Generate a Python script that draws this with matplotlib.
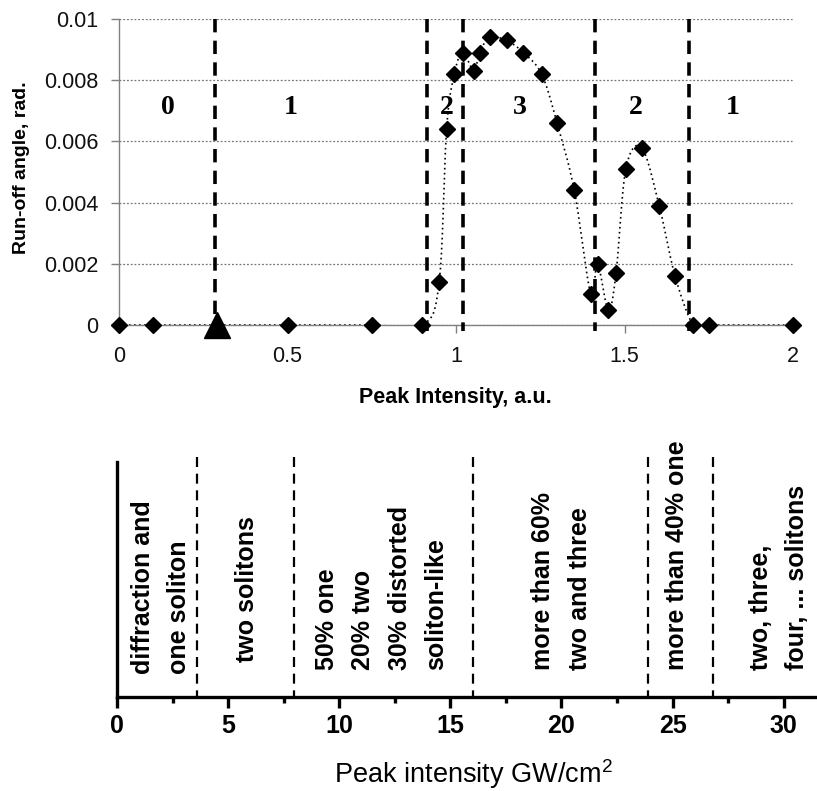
import numpy as np
import matplotlib
matplotlib.use("Agg")
import matplotlib.pyplot as plt

# top panel: run-off angle vs peak intensity (a.u.)
run_x = [0, 0.1, 0.5, 0.75, 0.9, 0.95, 0.972, 0.995, 1.02, 1.053, 1.07, 1.10, 1.15,
         1.20, 1.254, 1.30, 1.351, 1.40, 1.42, 1.452, 1.475, 1.504, 1.551, 1.603,
         1.65, 1.704, 1.75, 2.0]
run_y = [0, 0, 0, 0, 0, 0.0014, 0.0064, 0.0082, 0.0089, 0.0083, 0.0089, 0.0094, 0.0093,
         0.0089, 0.0082, 0.0066, 0.0044, 0.0010, 0.0020, 0.0005, 0.0017, 0.0051, 0.0058,
         0.0039, 0.0016, 0, 0, 0]
tri_x = [0.29]
tri_y = [0]
top_bounds = [0.285, 0.915, 1.022, 1.412, 1.692]
region_x = [0.145, 0.51, 0.972, 1.19, 1.534, 1.82]
region_txt = ["0", "1", "2", "3", "2", "1"]
top_xticks = [0, 0.5, 1, 1.5, 2]
top_xlabels = ["0", "0.5", "1", "1.5", "2"]
top_yticks = [0, 0.002, 0.004, 0.006, 0.008, 0.01]
top_ylabels = ["0", "0.002", "0.004", "0.006", "0.008", "0.01"]

# bottom panel: regimes vs peak intensity (GW/cm2)
bot_bounds = [3.6, 7.95, 16.0, 23.9, 26.8]
bot_text = ["diffraction and\none soliton", "two solitons",
            "50% one\n20% two\n30% distorted\nsoliton-like",
            "more than 60%\ntwo and three", "more than 40% one",
            "two, three,\nfour, ... solitons"]
bot_text_x = [1.98, 5.86, 11.9, 20.0, 25.2, 29.8]
bot_text_y = [0.10, 0.149, 0.115, 0.115, 0.115, 0.115]
bot_xticks = [0, 5, 10, 15, 20, 25, 30]
bot_xlabels = ["0", "5", "10", "15", "20", "25", "30"]


def smooth(x, y, n=24):
    # Excel-style smoothed line (Catmull-Rom Bezier through the points)
    pts = np.column_stack([x, y])
    P = np.vstack([pts[0], pts, pts[-1]])
    t = np.linspace(0, 1, n)[:, None]
    segs = []
    for i in range(1, len(P) - 2):
        p0, p1, p2, p3 = P[i - 1], P[i], P[i + 1], P[i + 2]
        c1 = p1 + (p2 - p0) / 6
        c2 = p2 - (p3 - p1) / 6
        segs.append((1 - t) ** 3 * p1 + 3 * (1 - t) ** 2 * t * c1
                    + 3 * (1 - t) * t ** 2 * c2 + t ** 3 * p2)
    s = np.vstack(segs)
    return s[:, 0], s[:, 1]


plt.rcParams["font.family"] = ["Liberation Sans", "DejaVu Sans"]
plt.rcParams["mathtext.fontset"] = "custom"
plt.rcParams["mathtext.rm"] = "Liberation Sans"

W, H = 817, 791
fig = plt.figure(figsize=(W / 100, H / 100), dpi=100)

# ---- top panel
ax = fig.add_axes([119 / W, 1 - 325 / H, 674 / W, 306 / H])
ax.set_xlim(0, 2)
ax.set_ylim(0, 0.01)
ax.yaxis.grid(True, linestyle=(0, (1.5, 1.5)), color="#777777", lw=0.9)
ax.set_axisbelow(True)
for s in ["top", "right"]:
    ax.spines[s].set_visible(False)
for s in ["left", "bottom"]:
    ax.spines[s].set_color("#808080")
    ax.spines[s].set_linewidth(1.0)

sx, sy = smooth(run_x, run_y)
ax.plot(sx, sy, color="black", lw=1.2, linestyle=(0, (1, 2)))
ax.plot(run_x, run_y, "D", color="black", ms=7.8, clip_on=False, zorder=5)
ax.plot(tri_x, tri_y, "^", color="black", ms=19, clip_on=False, zorder=5)

for b in top_bounds:
    ax.plot([b, b], [0.01, -0.00018], color="black", lw=2.6,
            dashes=(3.7, 2.3), clip_on=False, zorder=4)
for x, t in zip(region_x, region_txt):
    ax.text(x, 0.0071, t, ha="center", va="center", fontsize=20,
            fontweight="bold", family="Liberation Serif")

ax.set_xticks(top_xticks)
ax.set_xticklabels(top_xlabels)
ax.set_yticks(top_yticks)
ax.set_yticklabels(top_ylabels)
ax.tick_params(axis="both", colors="#808080", labelcolor="#111111",
               labelsize=15.5, length=6, width=1)
ax.tick_params(axis="x", pad=9)
ax.tick_params(axis="y", pad=9)
fig.text(22 / W, 1 - 168 / H, "Run-off angle, rad.", rotation=90, ha="center",
         va="center", fontsize=14, fontweight="bold")
fig.text(455 / W, 1 - 398 / H, "Peak Intensity, a.u.", ha="center", va="center",
         fontsize=15.5, fontweight="bold")

# ---- bottom panel
ax2 = fig.add_axes([117 / W, 1 - 697 / H, 700 / W, 235 / H])
ax2.set_xlim(0, 31.5)
ax2.set_ylim(0, 1)
for s in ["top", "right"]:
    ax2.spines[s].set_visible(False)
for s in ["left", "bottom"]:
    ax2.spines[s].set_linewidth(2.4)
    ax2.spines[s].set_color("black")
ax2.set_yticks([])
ax2.set_xticks(bot_xticks)
ax2.set_xticklabels(bot_xlabels, fontsize=18, fontweight="bold")
ax2.set_xticks(np.arange(2.5, 31, 5), minor=True)
ax2.tick_params(axis="x", which="major", length=8, width=2.4, pad=4)
ax2.tick_params(axis="x", which="minor", length=4, width=2.4)

for b in bot_bounds:
    ax2.plot([b, b], [1.02, 0], color="black", lw=1.6, dashes=(4.5, 3),
             clip_on=False)
for x, y, t in zip(bot_text_x, bot_text_y, bot_text):
    ax2.text(x, y, t, rotation=90, ha="center", va="bottom", multialignment="left",
             fontsize=18, fontweight="bold", linespacing=1.65,
             transform=ax2.get_xaxis_transform())

fig.text(473 / W, 1 - 774 / H, "Peak intensity GW/cm$^2$", ha="center", va="center",
         fontsize=19.5)

fig.savefig("out.png", dpi=100)
